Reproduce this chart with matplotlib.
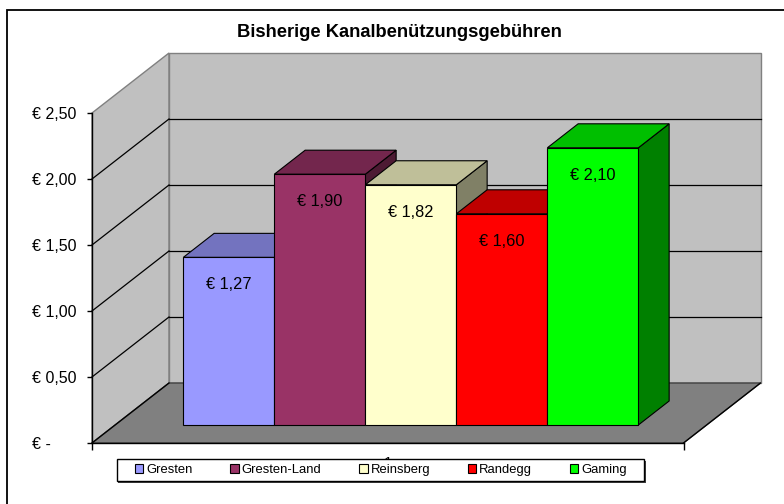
import numpy as np
import matplotlib
matplotlib.use('Agg')
import matplotlib.pyplot as plt
from matplotlib.patches import Polygon, Patch, Rectangle
from matplotlib.colors import to_rgb

plt.rcParams['font.family'] = ['Liberation Sans', 'DejaVu Sans']

title = 'Bisherige Kanalbenützungsgebühren'
orte = ['Gresten', 'Gresten-Land', 'Reinsberg', 'Randegg', 'Gaming']
gebuehren = [1.27, 1.90, 1.82, 1.60, 2.10]
farben = ['#9999FF', '#993366', '#FFFFCC', '#FF0000', '#00FF00']
y_ticks = [0, 0.5, 1.0, 1.5, 2.0, 2.5]
y_labels = ['€ -', '€ 0,50', '€ 1,00', '€ 1,50', '€ 2,00', '€ 2,50']
kategorie = '1'

# 3d look: depth offset of the back wall in data units
DX = 77 / 91
DY = 60 / 132
X_MAX = 6.5
Y_MAX = 2.5
GAP = 0.75


def euro(v):
    return '€ ' + f'{v:.2f}'.replace('.', ',')


def shade(color, f):
    r, g, b = to_rgb(color)
    return (r * f, g * f, b * f)


def draw_walls(ax):
    """Floor, left and back wall with gridlines."""
    wall = '#C0C0C0'
    edge = '#808080'
    left = [(0, 0), (DX, DY), (DX, Y_MAX + DY), (0, Y_MAX)]
    back = [(DX, DY), (DX + X_MAX, DY), (DX + X_MAX, Y_MAX + DY), (DX, Y_MAX + DY)]
    floor = [(0, 0), (X_MAX, 0), (X_MAX + DX, DY), (DX, DY)]
    ax.add_patch(Polygon(left, closed=True, fc=wall, ec=edge, lw=1, clip_on=False, zorder=1))
    ax.add_patch(Polygon(back, closed=True, fc=wall, ec=edge, lw=1, clip_on=False, zorder=1))
    ax.add_patch(Polygon(floor, closed=True, fc='#808080', ec='#404040', lw=1, clip_on=False, zorder=1.5))
    for v in y_ticks[:-1]:
        ax.plot([0, DX], [v, v + DY], color='black', lw=0.9, clip_on=False, zorder=2)
        if v > 0:
            ax.plot([DX, DX + X_MAX], [v + DY, v + DY], color='black', lw=0.9, clip_on=False, zorder=2)
    ax.plot([X_MAX, X_MAX + DX], [0, DY], color='black', lw=0.9, clip_on=False, zorder=2)


def draw_bars(ax):
    """Front faces with ax.bar, top and side faces as polygons."""
    x0 = GAP + 0.3 * DX
    y0 = 0.3 * DY
    dx = 0.4 * DX
    dy = 0.4 * DY
    xs = x0 + np.arange(len(gebuehren))
    ax.bar(xs, gebuehren, width=1, bottom=y0, align='edge', color=farben,
           edgecolor='black', linewidth=0.8, zorder=6)
    for x, v, c in zip(xs, gebuehren, farben):
        top = y0 + v
        top_face = [(x, top), (x + 1, top), (x + 1 + dx, top + dy), (x + dx, top + dy)]
        side_face = [(x + 1, y0), (x + 1 + dx, y0 + dy), (x + 1 + dx, top + dy), (x + 1, top)]
        ax.add_patch(Polygon(side_face, closed=True, fc=shade(c, 0.5), ec='black', lw=0.8, zorder=5))
        ax.add_patch(Polygon(top_face, closed=True, fc=shade(c, 0.75), ec='black', lw=0.8, zorder=5))
        ax.text(x + 0.5, top - 32 / 132, euro(v), ha='center', va='baseline',
                fontsize=11.8, zorder=7)


fig = plt.figure(figsize=(7.84, 5.04), dpi=100)
ax = fig.add_axes([92 / 784, 61 / 504, 591.5 / 784, 330 / 504])
ax.set_xlim(0, X_MAX)
ax.set_ylim(0, Y_MAX)
ax.patch.set_visible(False)
for s in ['top', 'right']:
    ax.spines[s].set_visible(False)
for s in ['left', 'bottom']:
    ax.spines[s].set_linewidth(1)
    ax.spines[s].set_zorder(8)

draw_walls(ax)
draw_bars(ax)

ax.set_yticks(y_ticks)
ax.set_yticklabels(y_labels, ha='left', fontsize=11.5)
ax.tick_params(axis='y', direction='out', length=3.6, width=1, pad=39.6)
ax.set_xticks([0, X_MAX])
ax.set_xticklabels(['', ''])
ax.tick_params(axis='x', direction='out', length=5, width=1)
ax.text(X_MAX / 2, -13 / 132, kategorie, ha='center', va='top', fontsize=11, clip_on=False)

fig.text(399.5 / 784, 1 - 36.7 / 504, title, ha='center', va='baseline',
         fontsize=13.2, fontweight='bold')

# outer chart border (only top and left visible)
fig.patches.append(Rectangle((7 / 784, -0.1), 1.2, 1.1 - 10 / 504, fill=False,
                             ec='black', lw=1.3, transform=fig.transFigure, zorder=1))

# legend frame and shadow
fig.patches.append(Rectangle((118.2 / 784, 1 - 482.5 / 504), 527.6 / 784, 21.7 / 504,
                             fc='#404040', ec='none', transform=fig.transFigure, zorder=2))
fig.patches.append(Rectangle((116.7 / 784, 1 - 481 / 504), 527.6 / 784, 21.7 / 504,
                             fc='white', ec='black', lw=1, transform=fig.transFigure, zorder=3))
handles = [Patch(facecolor=c, edgecolor='black', linewidth=0.8) for c in farben]
fig.legend(handles, orte, loc='center', bbox_to_anchor=(381 / 784, 1 - 470 / 504),
           ncol=5, frameon=False, fontsize=9.4, handlelength=0.64, handleheight=0.64,
           handletextpad=0.22, columnspacing=2.9, borderpad=0, borderaxespad=0)

fig.savefig('out.png', dpi=100)
